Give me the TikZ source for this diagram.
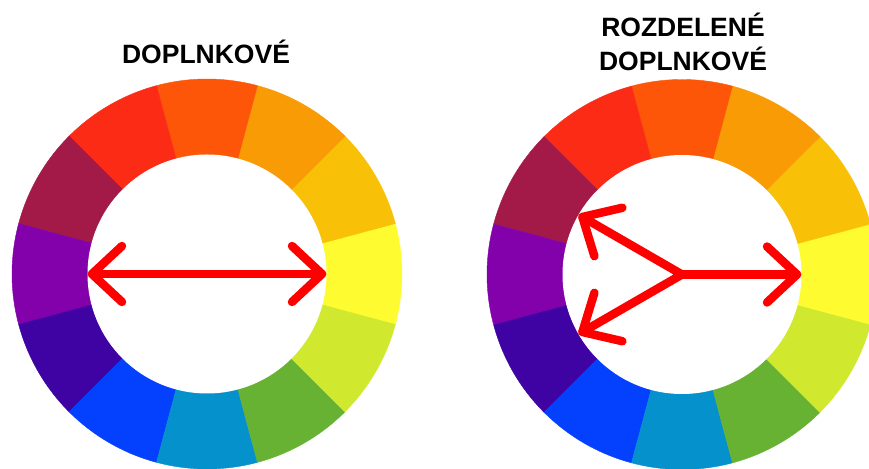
\documentclass[tikz,border=0pt]{standalone}
\usepackage{fontspec}
\setmainfont{Liberation Sans}
\usetikzlibrary{calc}

% twelve hues, counter-clockwise from the right-hand (yellow) sector
\definecolor{hueA}{HTML}{FEFC30}
\definecolor{hueB}{HTML}{F8C006}
\definecolor{hueC}{HTML}{F99B04}
\definecolor{hueD}{HTML}{FD5608}
\definecolor{hueE}{HTML}{FC2B16}
\definecolor{hueF}{HTML}{A31A48}
\definecolor{hueG}{HTML}{8201AA}
\definecolor{hueH}{HTML}{3F02A3}
\definecolor{hueI}{HTML}{0441FE}
\definecolor{hueJ}{HTML}{0591CB}
\definecolor{hueK}{HTML}{67B133}
\definecolor{hueL}{HTML}{D0E92E}
\definecolor{pointerred}{HTML}{FE0000}

\tikzset{
  wheeltitle/.style={font=\bfseries\fontsize{26.5}{30}\selectfont, inner sep=0pt, anchor=base},
  pointer/.style={draw=pointerred, line width=8.5pt, line cap=round, line join=round},
}

% colour wheel: 12 wedges round centre #1, then the white hole
\newcommand\colorwheel[1]{%
  \foreach \c [count=\i from 0] in {hueA,hueB,hueC,hueD,hueE,hueF,hueG,hueH,hueI,hueJ,hueK,hueL}{%
    \pgfmathsetmacro\wa{\i*30-15}%
    \pgfmathsetmacro\wb{\i*30+15}%
    \fill[\c, draw=\c, line width=0.4pt] (#1) -- ($(#1)+(\wa:195)$)
      arc[start angle=\wa, end angle=\wb, radius=195] -- cycle;
  }%
  \fill[white] (#1) circle[radius=119.5];
}

% open chevron head at tip #1, pointing in direction #2
\newcommand\chevronhead[2]{%
  \draw[pointer] ($(#1)+(#2+180-43:41)$) -- (#1) -- ($(#1)+(#2+180+43:41)$);
}

\begin{document}
\begin{tikzpicture}[x=1pt, y=1pt]
  \useasboundingbox (0,0) rectangle (869,468);
  \clip (0,0) rectangle (869,468);

  % ---- complementary pair ----
  \coordinate (cL) at (207,194);
  \colorwheel{cL}
  \coordinate (tipLwest) at ($(cL)+(180:115)$);
  \coordinate (tipLeast) at ($(cL)+(0:115)$);
  \draw[pointer] (tipLwest) -- (tipLeast);
  \chevronhead{tipLwest}{180}
  \chevronhead{tipLeast}{0}
  \node[wheeltitle] (titleL) at (206,404.7) {DOPLNKOVÉ};

  % ---- split complementary ----
  \coordinate (cR) at (682,193.5);
  \colorwheel{cR}
  \coordinate (tipReast) at ($(cR)+(0:115)$);
  \coordinate (tipRup) at ($(cR)+(150:115)$);
  \coordinate (tipRdown) at ($(cR)+(210:115)$);
  \draw[pointer, line join=miter] (tipRup) -- (cR) -- (tipRdown);
  \draw[pointer] (cR) -- (tipReast);
  \chevronhead{tipReast}{0}
  \chevronhead{tipRup}{150}
  \chevronhead{tipRdown}{210}
  \node[wheeltitle] (titleR1) at (683,431.3) {ROZDELENÉ};
  \node[wheeltitle] (titleR2) at (683,397) {DOPLNKOVÉ};
\end{tikzpicture}
\end{document}
